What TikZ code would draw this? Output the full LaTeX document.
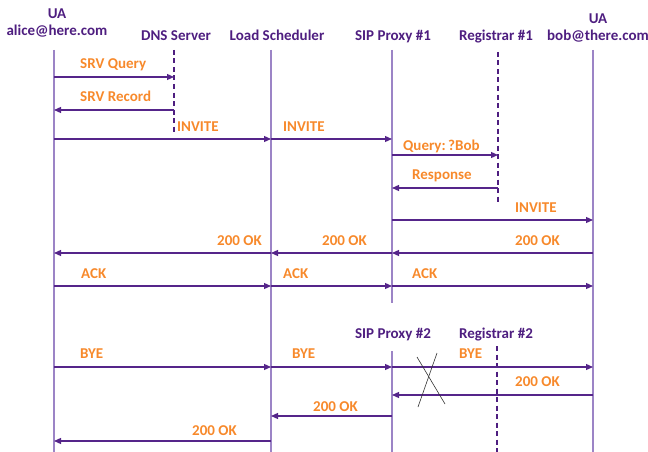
\documentclass[tikz,border=0pt]{standalone}
\usepackage{fontspec}
\setmainfont{Carlito}
\usetikzlibrary{arrows.meta}
\definecolor{life}{HTML}{9C84C6}
\definecolor{arrowc}{HTML}{55258A}
\definecolor{head}{HTML}{4E1E80}
\definecolor{msgtext}{HTML}{F7892B}
\tikzset{
  lifeline/.style={draw=life, line width=1.1pt},
  dashedlife/.style={draw=head, line width=1.1pt, dash pattern=on 5pt off 3.5pt},
  msg/.style={draw=arrowc, line width=1.2pt, -{Triangle[length=7pt,width=6pt]}},
  role/.style={text=head, font=\bfseries\fontsize{15}{15}\selectfont, inner sep=0pt, anchor=base},
  lab/.style={text=msgtext, font=\bfseries\fontsize{15}{15}\selectfont, inner sep=0pt, anchor=base west},
  cross/.style={draw=black!80, line width=0.6pt},
}

\begin{document}
\begin{tikzpicture}[x=1pt,y=-1pt]
  \useasboundingbox (0,0) rectangle (648,452);
  % lifeline heads
  \coordinate (alice) at (54,50);
  \coordinate (dns) at (174,50);
  \coordinate (ls) at (271,50);
  \coordinate (proxyA) at (392,50);
  \coordinate (regA) at (498,52);
  \coordinate (bob) at (593,50);
  \coordinate (proxyB) at (392,351);
  \coordinate (regB) at (497,346);
  \node[role] (uaA) at (57,19) {UA};
  \node[role] (aliceLab) at (57,36) {alice@here.com};
  \node[role] (dnsLab) at (176,41) {DNS Server};
  \node[role] (lsLab) at (277,41) {Load Scheduler};
  \node[role] (proxyALab) at (393,41) {SIP Proxy \#1};
  \node[role] (regALab) at (496,41) {Registrar \#1};
  \node[role] (uaB) at (598,24) {UA};
  \node[role] (bobLab) at (598,41) {bob@there.com};
  \node[role] (proxyBLab) at (393,338) {SIP Proxy \#2};
  \node[role] (regBLab) at (496,338) {Registrar \#2};
  % lifelines
  \draw[lifeline] (alice) -- (alice |- 0,452);
  \draw[dashedlife] (dns) -- (dns |- 0,132);
  \draw[lifeline] (ls) -- (ls |- 0,452);
  \draw[lifeline] (proxyA) -- (proxyA |- 0,303);
  \draw[dashedlife] (regA) -- (regA |- 0,203);
  \draw[lifeline] (bob) -- (bob |- 0,452);
  \draw[lifeline] (proxyB) -- (proxyB |- 0,452);
  \draw[dashedlife] (regB) -- (regB |- 0,452);
  % call setup
  \draw[msg] (alice |- 0,77) -- (dns |- 0,77);
  \node[lab] (srvq) at (80,69) {SRV Query};
  \draw[msg] (dns |- 0,110) -- (alice |- 0,110);
  \node[lab] (srvr) at (80,102) {SRV Record};
  \draw[msg] (alice |- 0,139) -- (ls |- 0,139);
  \node[lab] (invA) at (177,131) {INVITE};
  \draw[msg] (ls |- 0,139) -- (proxyA |- 0,139);
  \node[lab] (invB) at (283,131) {INVITE};
  \draw[msg] (proxyA |- 0,155) -- (regA |- 0,155);
  \node[lab] (query) at (403,150) {Query:\,?Bob};
  \draw[msg] (regA |- 0,188) -- (proxyA |- 0,188);
  \node[lab] (resp) at (412,179) {Response};
  \draw[msg] (proxyA |- 0,220) -- (bob |- 0,220);
  \node[lab] (invC) at (515,212) {INVITE};
  \draw[msg] (bob |- 0,253) -- (proxyA |- 0,253);
  \node[lab] (okA) at (515,245) {200 OK};
  \draw[msg] (proxyA |- 0,253) -- (ls |- 0,253);
  \node[lab] (okB) at (322,245) {200 OK};
  \draw[msg] (ls |- 0,253) -- (alice |- 0,253);
  \node[lab] (okC) at (217,245) {200 OK};
  \draw[msg] (alice |- 0,286) -- (ls |- 0,286);
  \node[lab] (ackA) at (81,278) {ACK};
  \draw[msg] (ls |- 0,286) -- (proxyA |- 0,286);
  \node[lab] (ackB) at (283,278) {ACK};
  \draw[msg] (proxyA |- 0,286) -- (bob |- 0,286);
  \node[lab] (ackC) at (412,278) {ACK};
  % teardown
  \draw[msg] (alice |- 0,367) -- (ls |- 0,367);
  \node[lab] (byeA) at (80,358) {BYE};
  \draw[msg] (ls |- 0,367) -- (proxyB |- 0,367);
  \node[lab] (byeB) at (292,358) {BYE};
  \draw[msg] (proxyB |- 0,367) -- (bob |- 0,367);
  \node[lab] (byeC) at (459,358) {BYE};
  \draw[msg] (bob |- 0,395) -- (proxyB |- 0,395);
  \node[lab] (okD) at (515,386) {200 OK};
  \draw[msg] (proxyB |- 0,416) -- (ls |- 0,416);
  \node[lab] (okE) at (313,411) {200 OK};
  \draw[msg] (ls |- 0,441) -- (alice |- 0,441);
  \node[lab] (okF) at (192,435) {200 OK};
  % crossed out
  \draw[cross] (417,357) -- (445,404);
  \draw[cross] (437,353) -- (418,407);
\end{tikzpicture}
\end{document}
